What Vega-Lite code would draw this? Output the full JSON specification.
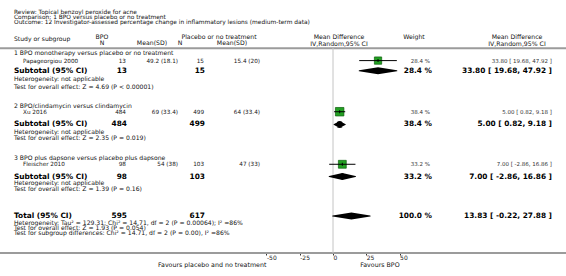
{
"$schema":"https://vega.github.io/schema/vega-lite/v6.json",
"width":566,"height":253,"padding":0,"autosize":{"type":"pad"},
"background":"#ffffff",
"config":{"view":{"stroke":null},"font":"DejaVu Sans","axis":{"grid":false}},
"datasets":{"rows":[
 {"kind":"title","label":"Review:  Topical benzoyl peroxide for acne","row":1.97},
 {"kind":"title","label":"Comparison:  1 BPO versus placebo or no treatment","row":2.85},
 {"kind":"title","label":"Outcome:  12 Investigator-assessed percentage change in inflammatory lesions (medium-term data)","row":3.73},
 {"kind":"head","label":"Study or subgroup","row":6.45},
 {"kind":"group","label":"1 BPO monotherapy versus placebo or no treatment","row":8.8},
 {"kind":"study","label":"Papageorgiou 2000","bpo_n":13,"bpo_mean":49.2,"bpo_sd":18.1,"ctl_n":15,"ctl_mean":15.4,"ctl_sd":20,"md":33.8,"lo":19.68,"hi":47.92,"weight":28.4,"row":10.1},
 {"kind":"subtotal","label":"Subtotal (95% CI)","bpo_n":13,"ctl_n":15,"md":33.8,"lo":19.68,"hi":47.92,"weight":28.4,"row":11.8},
 {"kind":"note","label":"Heterogeneity: not applicable","row":13.17},
 {"kind":"note","label":"Test for overall effect: Z = 4.69 (P < 0.00001)","row":14.45},
 {"kind":"group","label":"2 BPO/clindamycin versus clindamycin","row":17.67},
 {"kind":"study","label":"Xu 2016","bpo_n":484,"bpo_mean":69,"bpo_sd":33.4,"ctl_n":499,"ctl_mean":64,"ctl_sd":33.4,"md":5.0,"lo":0.82,"hi":9.18,"weight":38.4,"row":18.62},
 {"kind":"subtotal","label":"Subtotal (95% CI)","bpo_n":484,"ctl_n":499,"md":5.0,"lo":0.82,"hi":9.18,"weight":38.4,"row":20.75},
 {"kind":"note","label":"Heterogeneity: not applicable","row":21.95},
 {"kind":"note","label":"Test for overall effect: Z = 2.35 (P = 0.019)","row":22.95},
 {"kind":"group","label":"3 BPO plus dapsone versus placebo plus dapsone","row":26.38},
 {"kind":"study","label":"Fleischer 2010","bpo_n":98,"bpo_mean":54,"bpo_sd":38,"ctl_n":103,"ctl_mean":47,"ctl_sd":33,"md":7.0,"lo":-2.86,"hi":16.86,"weight":33.2,"row":27.38},
 {"kind":"subtotal","label":"Subtotal (95% CI)","bpo_n":98,"ctl_n":103,"md":7.0,"lo":-2.86,"hi":16.86,"weight":33.2,"row":29.42},
 {"kind":"note","label":"Heterogeneity: not applicable","row":30.55},
 {"kind":"note","label":"Test for overall effect: Z = 1.39 (P = 0.16)","row":31.55},
 {"kind":"total","label":"Total (95% CI)","bpo_n":595,"ctl_n":617,"md":13.83,"lo":-0.22,"hi":27.88,"weight":100.0,"row":36.0},
 {"kind":"note","label":"Heterogeneity: Tau² = 129.31; Chi² = 14.71, df = 2 (P = 0.00064); I² =86%","row":37.15},
 {"kind":"note","label":"Test for overall effect: Z = 1.93 (P = 0.054)","row":38.0},
 {"kind":"note","label":"Test for subgroup differences: Chi² = 14.71, df = 2 (P = 0.00), I² =86%","row":38.85}
]},
"layer":[
 {"data":{"values":[{"line":"header","left":-250,"right":174.92,"top":7.87,"bottom":8.2},{"line":"footer","left":-250,"right":174.92,"top":42.0,"bottom":42.33}]},
  "mark":{"type":"rect","color":"#9b9b9b","opacity":1},
  "encoding":{"x":{"field":"left","type":"quantitative","scale":{"domain":[-250,174.92],"nice":false,"zero":false},
     "axis":{"values":[-50,-25,0,25,50],"labelExpr":"'' + datum.value","domain":false,"ticks":true,"tickColor":"#333333","tickSize":2,"tickWidth":1,"labelFontSize":6,"labelColor":"#222222","labelAlign":"left","labelPadding":-1,"labelFlush":false,"labelOverlap":false,"title":null,"grid":false}},
   "x2":{"field":"right"},
   "y":{"field":"top","type":"quantitative","scale":{"domain":[0,42.1667],"reverse":true,"nice":false,"zero":false},"axis":null},
   "y2":{"field":"bottom"}}},
 {"data":{"values":[{"ref":0,"top":8.0,"bottom":42.1667}]},
  "mark":{"type":"rule","color":"#c4c4c4","strokeWidth":1},
  "encoding":{"x":{"field":"ref","type":"quantitative"},
   "y":{"field":"top","type":"quantitative"},
   "y2":{"field":"bottom"}}},
 {"data":{"name":"rows"},"transform":[{"filter":"datum.kind=='study'"}],
  "mark":{"type":"point","shape":"square","filled":true,"fill":"#22a022","stroke":"#0b5e0b","strokeWidth":0.7,"opacity":1},
  "encoding":{"x":{"field":"md","type":"quantitative"},
   "y":{"field":"row","type":"quantitative"},
   "size":{"field":"weight","type":"quantitative","scale":{"domain":[0,38.4],"range":[0,72]},"legend":null}}},
 {"data":{"name":"rows"},"transform":[{"filter":"datum.kind=='study'"}],
  "mark":{"type":"rule","color":"#000000","strokeWidth":1},
  "encoding":{"x":{"field":"lo","type":"quantitative"},"x2":{"field":"hi"},
   "y":{"field":"row","type":"quantitative"}}},
 {"data":{"name":"rows"},"transform":[{"filter":"datum.kind=='study'"}],
  "mark":{"type":"tick","orient":"vertical","size":3,"thickness":1,"color":"#000000","opacity":1},
  "encoding":{"x":{"field":"md","type":"quantitative"},
   "y":{"field":"row","type":"quantitative"}}},
 {"data":{"name":"rows"},"transform":[{"filter":"datum.kind=='subtotal'||datum.kind=='total'"},{"fold":["lo","md","hi"],"as":["pt","xv"]}],
  "mark":{"type":"trail","color":"#000000","opacity":1},
  "encoding":{"x":{"field":"xv","type":"quantitative"},
   "y":{"field":"row","type":"quantitative"},
   "detail":{"field":"row","type":"nominal"},
   "order":{"field":"xv","type":"quantitative"},
   "size":{"condition":{"test":"datum.pt=='md'","value":7},"value":0}}},
 {"data":{"values":[{"text":"Favours placebo and no treatment","at":-50,"pos":44.2},{"text":"Favours BPO","at":50,"pos":44.1}]},
  "mark":{"type":"text","align":"right","baseline":"middle","fontSize":6.3,"color":"#111111"},
  "encoding":{"x":{"field":"at","type":"quantitative"},
   "y":{"field":"pos","type":"quantitative"},
   "text":{"field":"text","type":"nominal"}}},
 {
  "data":{"name":"rows"},
  "transform":[
   {"calculate":"datum.bpo_mean == null ? '' : datum.bpo_mean + ' (' + datum.bpo_sd + ')'","as":"bpo_msd"},
   {"calculate":"datum.ctl_mean == null ? '' : datum.ctl_mean + ' (' + datum.ctl_sd + ')'","as":"ctl_msd"},
   {"calculate":"datum.weight == null ? '' : format(datum.weight, '.1f') + ' %'","as":"wtxt"},
   {"calculate":"datum.md == null ? '' : replace(format(datum.md, '.2f'), '\u2212', '-') + ' [ ' + replace(format(datum.lo, '.2f'), '\u2212', '-') + ', ' + replace(format(datum.hi, '.2f'), '\u2212', '-') + ' ]'","as":"citxt"}
  ],
  "layer":[
   {"transform":[{"filter":"datum.kind=='title'"}],
    "mark":{"type":"text","align":"left","baseline":"middle","fontSize":5.9,"color":"#111111"},
    "encoding":{"x":{"datum":-239.49,"type":"quantitative"},"y":{"field":"row","type":"quantitative"},"text":{"field":"label","type":"nominal"}}},
   {"transform":[{"filter":"datum.kind=='head'||datum.kind=='group'||datum.kind=='note'"}],
    "mark":{"type":"text","align":"left","baseline":"middle","fontSize":6.1,"color":"#111111"},
    "encoding":{"x":{"datum":-239.49,"type":"quantitative"},"y":{"field":"row","type":"quantitative"},"text":{"field":"label","type":"nominal"}}},
   {"transform":[{"filter":"datum.kind=='study'"}],
    "mark":{"type":"text","align":"left","baseline":"middle","fontSize":5.7,"color":"#111111"},
    "encoding":{"x":{"datum":-232.73,"type":"quantitative"},"y":{"field":"row","type":"quantitative"},"text":{"field":"label","type":"nominal"}}},
   {"transform":[{"filter":"datum.kind=='subtotal'||datum.kind=='total'"}],
    "mark":{"type":"text","align":"left","baseline":"middle","fontSize":7.4,"fontWeight":"bold","color":"#000000"},
    "encoding":{"x":{"datum":-239.49,"type":"quantitative"},"y":{"field":"row","type":"quantitative"},"text":{"field":"label","type":"nominal"}}},
   {"transform":[{"filter":"datum.kind=='study'"}],
    "mark":{"type":"text","align":"right","baseline":"middle","fontSize":5.7,"color":"#111111"},
    "encoding":{"x":{"datum":-155.41,"type":"quantitative"},"y":{"field":"row","type":"quantitative"},"text":{"field":"bpo_n","type":"nominal"}}},
   {"transform":[{"filter":"datum.kind=='study'"}],
    "mark":{"type":"text","align":"right","baseline":"middle","fontSize":5.7,"color":"#111111"},
    "encoding":{"x":{"datum":-116.37,"type":"quantitative"},"y":{"field":"row","type":"quantitative"},"text":{"field":"bpo_msd","type":"nominal"}}},
   {"transform":[{"filter":"datum.kind=='study'"}],
    "mark":{"type":"text","align":"right","baseline":"middle","fontSize":5.7,"color":"#111111"},
    "encoding":{"x":{"datum":-96.85,"type":"quantitative"},"y":{"field":"row","type":"quantitative"},"text":{"field":"ctl_n","type":"nominal"}}},
   {"transform":[{"filter":"datum.kind=='study'"}],
    "mark":{"type":"text","align":"right","baseline":"middle","fontSize":5.7,"color":"#111111"},
    "encoding":{"x":{"datum":-54.81,"type":"quantitative"},"y":{"field":"row","type":"quantitative"},"text":{"field":"ctl_msd","type":"nominal"}}},
   {"transform":[{"filter":"datum.kind=='subtotal'||datum.kind=='total'"}],
    "mark":{"type":"text","align":"right","baseline":"middle","fontSize":7.4,"fontWeight":"bold","color":"#000000"},
    "encoding":{"x":{"datum":-154.66,"type":"quantitative"},"y":{"field":"row","type":"quantitative"},"text":{"field":"bpo_n","type":"nominal"}}},
   {"transform":[{"filter":"datum.kind=='subtotal'||datum.kind=='total'"}],
    "mark":{"type":"text","align":"right","baseline":"middle","fontSize":7.4,"fontWeight":"bold","color":"#000000"},
    "encoding":{"x":{"datum":-96.10,"type":"quantitative"},"y":{"field":"row","type":"quantitative"},"text":{"field":"ctl_n","type":"nominal"}}},
   {"transform":[{"filter":"datum.kind=='study'"}],
    "mark":{"type":"text","align":"right","baseline":"middle","fontSize":5.5,"color":"#333333"},
    "encoding":{"x":{"datum":72.82,"type":"quantitative"},"y":{"field":"row","type":"quantitative"},"text":{"field":"wtxt","type":"nominal"}}},
   {"transform":[{"filter":"datum.kind=='study'"}],
    "mark":{"type":"text","align":"right","baseline":"middle","fontSize":5.5,"color":"#333333"},
    "encoding":{"x":{"datum":164.41,"type":"quantitative"},"y":{"field":"row","type":"quantitative"},"text":{"field":"citxt","type":"nominal"}}},
   {"transform":[{"filter":"datum.kind=='subtotal'||datum.kind=='total'"}],
    "mark":{"type":"text","align":"right","baseline":"middle","fontSize":7.4,"fontWeight":"bold","color":"#000000"},
    "encoding":{"x":{"datum":74.32,"type":"quantitative"},"y":{"field":"row","type":"quantitative"},"text":{"field":"wtxt","type":"nominal"}}},
   {"transform":[{"filter":"datum.kind=='subtotal'||datum.kind=='total'"}],
    "mark":{"type":"text","align":"right","baseline":"middle","fontSize":7.4,"fontWeight":"bold","color":"#000000"},
    "encoding":{"x":{"datum":164.41,"type":"quantitative"},"y":{"field":"row","type":"quantitative"},"text":{"field":"citxt","type":"nominal"}}}
  ]
 },
 {"data":{"values":[
   {"text":"BPO","at":-173.42,"pos":6.2},
   {"text":"N","at":-173.42,"pos":7.2},
   {"text":"Mean(SD)","at":-135.89,"pos":7.2},
   {"text":"Placebo or no treatment","at":-85.59,"pos":6.2},
   {"text":"N","at":-114.87,"pos":7.2},
   {"text":"Mean(SD)","at":-75.83,"pos":7.2},
   {"text":"Mean Difference","at":4.5,"pos":6.2},
   {"text":"IV,Random,95% CI","at":4.5,"pos":7.3},
   {"text":"Weight","at":60.81,"pos":6.15},
   {"text":"Mean Difference","at":138.13,"pos":6.2},
   {"text":"IV,Random,95% CI","at":138.13,"pos":7.3}
  ]},
  "mark":{"type":"text","align":"center","baseline":"middle","fontSize":6.2,"color":"#111111"},
  "encoding":{"x":{"field":"at","type":"quantitative"},"y":{"field":"pos","type":"quantitative"},"text":{"field":"text","type":"nominal"}}}
]
}
